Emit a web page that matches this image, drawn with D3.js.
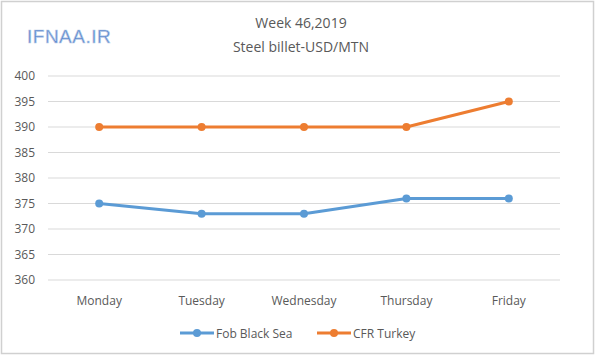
<!DOCTYPE html>
<html>
<head>
<meta charset="utf-8">
<script src="https://cdn.jsdelivr.net/npm/d3@7"></script>
<style>
  body { margin: 0; background: #fff; }
  text { font-family: "Open Sans", "Noto Sans", sans-serif; }
</style>
</head>
<body>
<div id="chart"></div>
<script>
// 数据
var days = ['Monday', 'Tuesday', 'Wednesday', 'Thursday', 'Friday'];
var fobBlackSea = [375, 373, 373, 376, 376];
var cfrTurkey = [390, 390, 390, 390, 395];
var yTicks = [360, 365, 370, 375, 380, 385, 390, 395, 400];
var seriesNames = ['Fob Black Sea', 'CFR Turkey'];
var seriesColors = ['#5b9bd5', '#ed7d31'];

var width = 600, height = 358;
var svg = d3.select('#chart').append('svg')
    .attr('width', width).attr('height', height);

// 外框
svg.append('rect')
    .attr('x', 1.5).attr('y', 1.5).attr('width', 592).attr('height', 352)
    .attr('fill', '#fff').attr('stroke', '#d0d0d0').attr('stroke-width', 1.5);

// 比例尺
var x = d3.scaleBand().domain(days).range([48, 560]);
var y = d3.scaleLinear().domain([360, 400]).range([280, 76]);

// 网格线
svg.append('g').selectAll('line').data(yTicks).enter().append('line')
    .attr('x1', 48).attr('x2', 560)
    .attr('y1', function (d) { return y(d); })
    .attr('y2', function (d) { return y(d); })
    .attr('stroke', '#d9d9d9').attr('stroke-width', 1);

// Y轴刻度
var yAxis = svg.append('g').attr('transform', 'translate(40,0)')
    .call(d3.axisLeft(y).tickValues(yTicks).tickSize(0).tickPadding(5));
yAxis.select('.domain').remove();
yAxis.selectAll('text').attr('fill', '#595959').style('font-size', '12px')
    .style('font-family', '"Open Sans", sans-serif');

// X轴刻度
var xAxis = svg.append('g').attr('transform', 'translate(0,290)')
    .call(d3.axisBottom(x).tickSize(0).tickPadding(6));
xAxis.select('.domain').remove();
xAxis.selectAll('text').attr('fill', '#595959').style('font-size', '12px')
    .style('font-family', '"Open Sans", sans-serif');

// 折线
var line = d3.line()
    .x(function (d, i) { return x(days[i]) + x.bandwidth() / 2; })
    .y(function (d) { return y(d); });

[fobBlackSea, cfrTurkey].forEach(function (vals, k) {
    svg.append('path').datum(vals)
        .attr('d', line)
        .attr('fill', 'none')
        .attr('stroke', seriesColors[k])
        .attr('stroke-width', 3)
        .attr('stroke-linejoin', 'round');
    svg.append('g').selectAll('circle').data(vals).enter().append('circle')
        .attr('cx', function (d, i) { return x(days[i]) + x.bandwidth() / 2; })
        .attr('cy', function (d) { return y(d); })
        .attr('r', 4)
        .attr('fill', seriesColors[k]);
});

// 标题
svg.append('text').text('Week 46,2019')
    .attr('x', 301).attr('y', 28).attr('text-anchor', 'middle')
    .attr('fill', '#595959').style('font-size', '14px');
svg.append('text').text('Steel billet-USD/MTN')
    .attr('x', 301).attr('y', 52).attr('text-anchor', 'middle')
    .attr('fill', '#595959').style('font-size', '14px');

// 水印
svg.append('text').text('IFNAA.IR')
    .attr('x', 27).attr('y', 43)
    .attr('fill', '#5b88cc').attr('stroke', '#b8cbe8').attr('stroke-width', 0.6)
    .style('font-size', '19px').style('font-family', '"Liberation Sans", sans-serif')
    .style('letter-spacing', '0.5px');

// 图例
var legendX = [180, 317];
seriesNames.forEach(function (name, k) {
    var lg = svg.append('g').attr('transform', 'translate(' + legendX[k] + ',333)');
    lg.append('line').attr('x1', 0).attr('x2', 34).attr('y1', 0).attr('y2', 0)
        .attr('stroke', seriesColors[k]).attr('stroke-width', 3);
    lg.append('circle').attr('cx', 17).attr('cy', 0).attr('r', 4).attr('fill', seriesColors[k]);
    lg.append('text').text(name).attr('x', 36).attr('y', 4.5)
        .attr('fill', '#595959').style('font-size', '12px');
});
</script>
</body>
</html>
